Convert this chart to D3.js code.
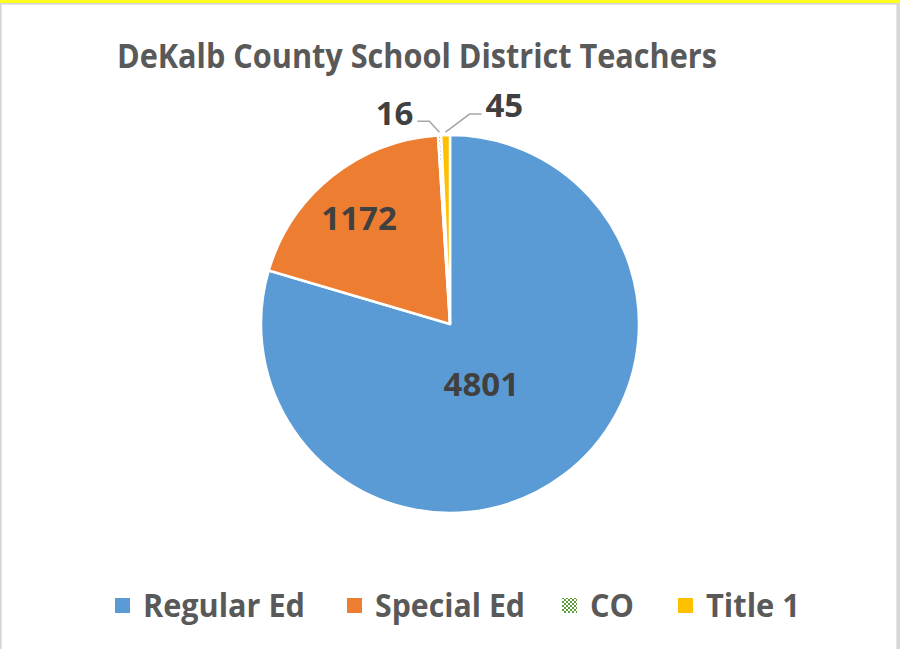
<!DOCTYPE html>
<html>
<head>
<meta charset="utf-8">
<script src="https://cdn.jsdelivr.net/npm/d3@7/dist/d3.min.js"></script>
<style>
  html, body { margin: 0; padding: 0; background: #fff; }
  svg { display: block; }
</style>
</head>
<body>
<div id="chart"></div>
<script>
var categories = ['Regular Ed', 'Special Ed', 'CO', 'Title 1'];
var values = [4801, 1172, 16, 45];
var colors = ['#5B9BD5', '#ED7D31', 'url(#dots)', '#FFC000'];
var titleText = 'DeKalb County School District Teachers';

var W = 900, H = 649;
var cx = 450, cy = 324, r = 189;

var svg = d3.select('#chart')
  .append('svg')
    .attr('width', W)
    .attr('height', H);

// dotted green pattern for CO
var pat = svg.append('defs').append('pattern')
    .attr('id', 'dots')
    .attr('width', 4)
    .attr('height', 4)
    .attr('patternUnits', 'userSpaceOnUse');
pat.append('rect').attr('width', 4).attr('height', 4).attr('fill', '#fff');
pat.append('rect').attr('x', 0).attr('y', 0).attr('width', 2).attr('height', 2).attr('fill', '#5E9E3A');
pat.append('rect').attr('x', 2).attr('y', 2).attr('width', 2).attr('height', 2).attr('fill', '#5E9E3A');

// frame
svg.append('rect').attr('x', 0).attr('y', 0).attr('width', W).attr('height', H).attr('fill', '#d9d9d9');
svg.append('rect').attr('x', 1).attr('y', 4).attr('width', W - 4).attr('height', H).attr('fill', '#fff')
   .attr('stroke', '#d0d0d0').attr('stroke-width', 1);
svg.append('rect').attr('x', 0).attr('y', 0).attr('width', W).attr('height', 3).attr('fill', '#ffff20');

// title
svg.append('text')
   .attr('x', 117)
   .attr('y', 68)
   .attr('textLength', 600)
   .attr('lengthAdjust', 'spacingAndGlyphs')
   .attr('font-family', 'Open Sans, sans-serif')
   .attr('font-weight', 'bold')
   .attr('font-size', 34)
   .attr('fill', '#595959')
   .text(titleText);

var data = categories.map(function(c, i) { return { name: c, value: values[i], color: colors[i] }; });

var pie = d3.pie().sort(null).value(function(d) { return d.value; });
var arcs = pie(data);
var arc = d3.arc().innerRadius(0).outerRadius(r);

var g = svg.append('g').attr('transform', 'translate(' + cx + ',' + cy + ')');

g.selectAll('path.slice')
  .data(arcs)
  .enter().append('path')
    .attr('class', 'slice')
    .attr('d', arc)
    .attr('fill', function(d) { return d.data.color; })
    .attr('stroke', '#fff')
    .attr('stroke-width', 2.5)
    .attr('stroke-linejoin', 'round');

// inside labels for the big slices
var insideFactor = [0.4, 0.72];
var insideShift = [-14, -6];
arcs.slice(0, 2).forEach(function(d, i) {
  var la = d3.arc().innerRadius(r * insideFactor[i]).outerRadius(r * insideFactor[i]);
  var c = la.centroid(d);
  g.append('text')
    .attr('x', c[0] + insideShift[i])
    .attr('y', c[1])
    .attr('dy', '0.36em')
    .attr('text-anchor', 'middle')
    .attr('font-family', 'Open Sans, sans-serif')
    .attr('font-weight', 'bold')
    .attr('font-size', 33)
    .attr('fill', '#404040')
    .text(d.data.value);
});

// outside labels with leader lines for the small slices
arcs.slice(2).forEach(function(d, i) {
  var side = i === 0 ? -1 : 1;
  var mid = (d.startAngle + d.endAngle) / 2;
  var p0 = [Math.sin(mid) * (r + 3), -Math.cos(mid) * (r + 3)];
  var p1 = side < 0 ? [p0[0] - 10, p0[1] - 11] : [p0[0] + 24, p0[1] - 18];
  var p2 = [p1[0] + side * 12, p1[1]];
  g.append('polyline')
    .attr('points', [p0, p1, p2].map(function(p) { return p.join(','); }).join(' '))
    .attr('fill', 'none')
    .attr('stroke', '#a6a6a6')
    .attr('stroke-width', 1.5);
  g.append('text')
    .attr('x', p2[0] + side * 4)
    .attr('y', p2[1])
    .attr('dy', '0.1em')
    .attr('text-anchor', side < 0 ? 'end' : 'start')
    .attr('font-family', 'Open Sans, sans-serif')
    .attr('font-weight', 'bold')
    .attr('font-size', 33)
    .attr('fill', '#404040')
    .text(d.data.value);
});

// legend
var legX = [115, 347, 562, 678];
var legW = [162, 150, 44, 94];
var leg = svg.append('g').selectAll('g')
  .data(data)
  .enter().append('g')
    .attr('transform', function(d, i) { return 'translate(' + legX[i] + ',605)'; });
leg.append('rect')
  .attr('x', 0).attr('y', -7)
  .attr('width', 15).attr('height', 15)
  .attr('fill', function(d) { return d.color; });
leg.append('text')
  .attr('x', 28)
  .attr('y', 0)
  .attr('dy', '0.36em')
  .attr('textLength', function(d, i) { return legW[i]; })
  .attr('lengthAdjust', 'spacingAndGlyphs')
  .attr('font-family', 'Open Sans, sans-serif')
  .attr('font-weight', 'bold')
  .attr('font-size', 33)
  .attr('fill', '#595959')
  .text(function(d) { return d.name; });
</script>
</body>
</html>
